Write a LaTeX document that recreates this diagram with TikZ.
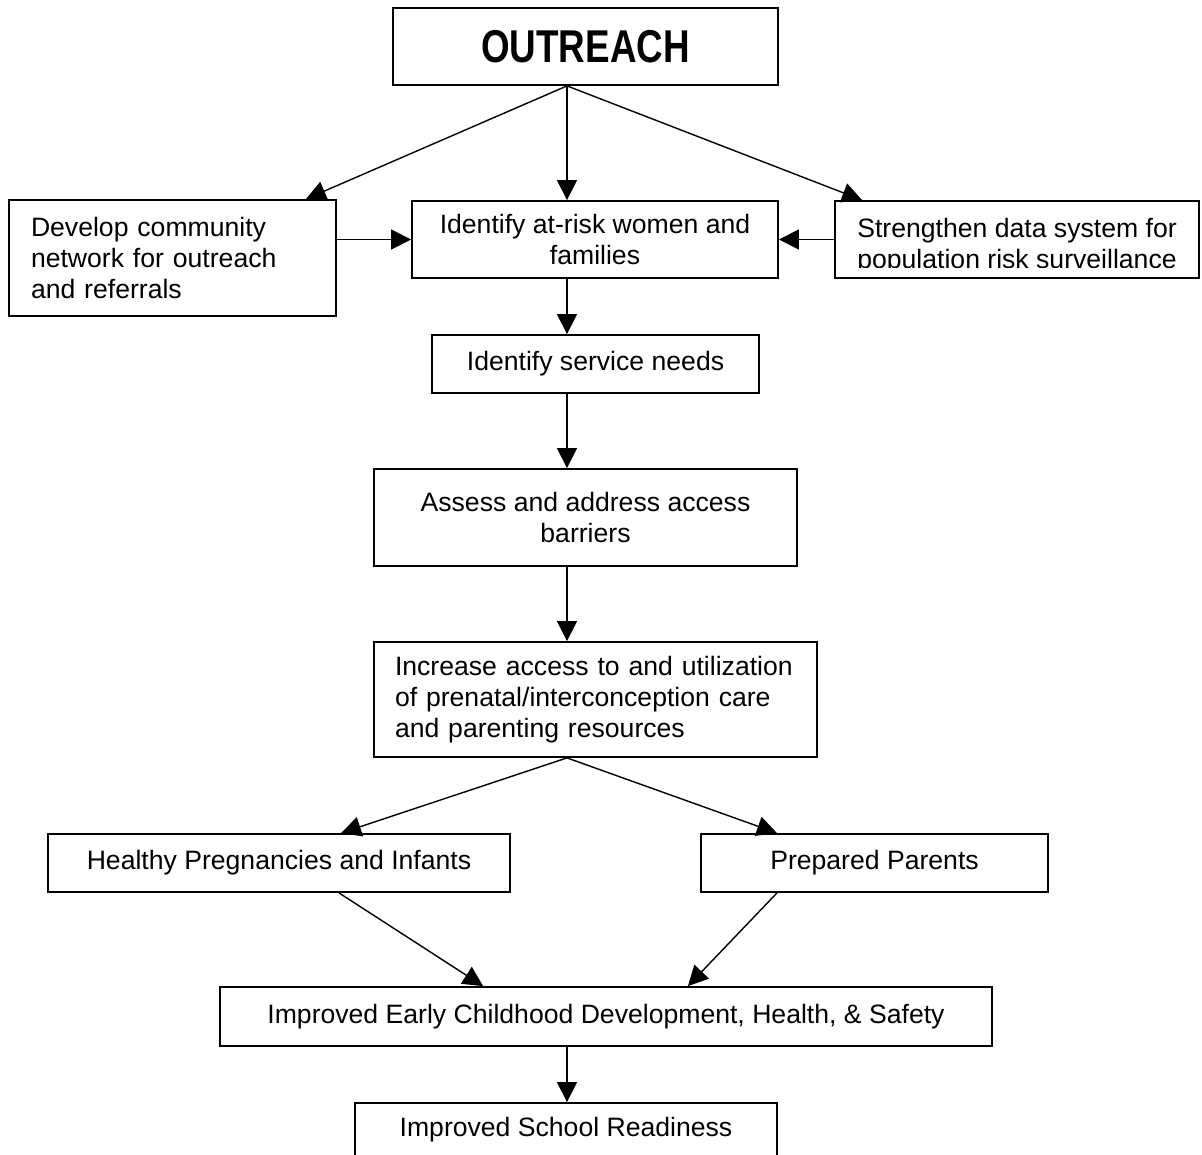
\documentclass[tikz,border=0pt]{standalone}
\usepackage{fontspec}
\setmainfont{Liberation Sans}
\usetikzlibrary{arrows.meta}
\usetikzlibrary{calc}

\begin{document}
\begin{tikzpicture}[
    box/.style={draw,line width=1.8pt,inner sep=0pt,align=center},
    link/.style={line width=1.4pt,-{Triangle[length=20pt,width=20pt]}},
    every node/.style={font=\fontsize{26.6pt}{31pt}\selectfont}
  ]
        \useasboundingbox (0pt,0pt) rectangle (1202pt,-1155pt);
        \coordinate (spine) at (567pt,0pt);
        \node[box,minimum width=385pt,minimum height=77pt,font=\fontsize{46pt}{50pt}\selectfont\bfseries] (outreach) at (585.5pt,-46.5pt) {\scalebox{0.8}[1]{OUTREACH}};
        \node[box,align=left,text width=283pt,inner xsep=22pt,minimum height=116pt] (develop) at (172.5pt,-258pt) {Develop community\\network for outreach\\and referrals};
        \node[box,minimum width=366pt,minimum height=77pt] (atrisk) at (595pt,-239.5pt) {Identify at-risk women and\\families};
        \node[box,minimum width=364pt,minimum height=77pt,text height=59pt,text depth=0pt] (strengthen) at (1017pt,-239.5pt) {Strengthen data system for\\population risk surveillance};
        \fill[white] ([xshift=1.8pt,yshift=1.8pt]strengthen.south west) rectangle ([xshift=-1.8pt,yshift=11pt]strengthen.south east);
        \node[box,minimum width=327pt,minimum height=58pt] (needs) at (595.5pt,-364pt) {Identify service needs};
        \node[box,minimum width=423pt,minimum height=97pt] (barriers) at (585.5pt,-517.5pt) {Assess and address access\\barriers};
        \node[box,align=left,text width=413pt,inner xsep=15pt,minimum height=115pt] (access) at (595.5pt,-699.5pt) {\hspace*{6pt}Increase access to and utilization\\\hspace*{6pt}of prenatal/interconception care\\\hspace*{6pt}and parenting resources};
        \node[box,minimum width=462pt,minimum height=58pt] (healthy) at (279pt,-863pt) {Healthy Pregnancies and Infants};
        \node[box,minimum width=347pt,minimum height=58pt] (parents) at (874.5pt,-863pt) {Prepared Parents};
        \node[box,minimum width=772pt,minimum height=59pt] (earlychild) at (606pt,-1016.5pt) {Improved Early Childhood Development, Health, \& Safety};
        \node[box,minimum width=422pt,minimum height=54pt] (school) at (566pt,-1130pt) {Improved School Readiness};
        \draw[link] (outreach.south -| spine) -- ([xshift=-31pt]develop.north east);
        \draw[link] (outreach.south -| spine) -- (atrisk.north -| spine);
        \draw[link] (outreach.south -| spine) -- ([xshift=28pt]strengthen.north west);
        \draw[link] (develop.east |- atrisk.west) -- (atrisk.west);
        \draw[link] (strengthen.west) -- (atrisk.east);
        \foreach \a/\b in {atrisk/needs,needs/barriers,barriers/access,earlychild/school}
          \draw[link] (\a.south -| spine) -- (\b.north -| spine);
        \draw[link] (access.south -| spine) -- ([xshift=62pt]healthy.north);
        \draw[link] (access.south -| spine) -- ([xshift=-97.5pt]parents.north);
        \draw[link] ([xshift=60pt]healthy.south) -- ([xshift=264pt]earlychild.north west);
        \draw[link] ([xshift=-97.5pt]parents.south) -- ([xshift=-305pt]earlychild.north east);
      \end{tikzpicture}
\end{document}
